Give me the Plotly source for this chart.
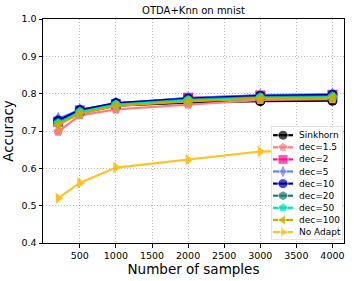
import plotly.graph_objects as go

samples = [200, 500, 1000, 2000, 3000, 4000]
series_names = ["Sinkhorn", "dec=1.5", "dec=2", "dec=5", "dec=10", "dec=20", "dec=50", "dec=100", "No Adapt"]
sinkhorn = [0.722, 0.748, 0.768, 0.776, 0.780, 0.781]
dec_1_5 = [0.698, 0.742, 0.758, 0.771, 0.783, 0.785]
dec_2 = [0.725, 0.755, 0.772, 0.789, 0.795, 0.797]
dec_5 = [0.733, 0.757, 0.774, 0.788, 0.796, 0.799]
dec_10 = [0.728, 0.756, 0.775, 0.787, 0.794, 0.797]
dec_20 = [0.722, 0.752, 0.771, 0.784, 0.791, 0.793]
dec_50 = [0.720, 0.750, 0.770, 0.782, 0.789, 0.791]
dec_100 = [0.716, 0.747, 0.767, 0.779, 0.787, 0.789]
no_adapt = [0.520, 0.561, 0.602, 0.623, 0.645, 0.649]
x_ticks = [500, 1000, 1500, 2000, 2500, 3000, 3500, 4000]
y_ticks = [0.4, 0.5, 0.6, 0.7, 0.8, 0.9, 1.0]

values = [sinkhorn, dec_1_5, dec_2, dec_5, dec_10, dec_20, dec_50, dec_100, no_adapt]
colors = ["#000000", "#FA8080", "#FF1493", "#6A80FF", "#0000A0", "#1E7B6E", "#00E0B0", "#CCAA00", "#FFC125"]
symbols = ["circle", "pentagon", "square", "diamond-tall", "circle", "hexagon", "pentagon", "triangle-left", "triangle-right"]

W, H = 354, 281
ML, MR, MT, MB = 43, 10, 19, 38
PW, PH = W - ML - MR, H - MT - MB

fig = go.Figure()
for name, vals, c, s in zip(series_names, values, colors, symbols):
    fig.add_trace(go.Scatter(
        x=samples, y=vals, name=name, mode="lines+markers",
        line=dict(color=c, width=2.2),
        marker=dict(symbol=s, size=10, color=c),
        showlegend=False,
    ))

# custom compact legend on an auxiliary axis pair (units = pixels inside the legend box)
LB_L, LB_R, LB_B, LB_T = 271, 343, 240, 126
lw, lh = LB_R - LB_L, LB_B - LB_T
fig.add_trace(go.Scatter(
    x=[0, lw, lw, 0, 0], y=[0, 0, lh, lh, 0], mode="lines", fill="toself",
    fillcolor="rgba(255,255,255,0.85)", line=dict(color="#c8c8c8", width=1),
    xaxis="x2", yaxis="y2", showlegend=False, hoverinfo="skip",
))
n = len(series_names)
step = 12.1
for i, (name, c, s) in enumerate(zip(series_names, colors, symbols)):
    yy = 8 + (n - 1 - i) * step
    fig.add_trace(go.Scatter(
        x=[2, 12, 22], y=[yy, yy, yy], mode="lines+markers",
        line=dict(color=c, width=2.2),
        marker=dict(symbol=s, size=[0, 10, 0], color=c),
        xaxis="x2", yaxis="y2", showlegend=False, hoverinfo="skip",
    ))
    fig.add_annotation(x=26, y=yy, xref="x2", yref="y2", text=name, showarrow=False,
                       xanchor="left", yanchor="middle", font=dict(size=9, color="black"))

axis_common = dict(
    showline=True, linecolor="black", linewidth=1, mirror=True,
    ticks="outside", ticklen=3.5, tickcolor="black", tickwidth=1,
    showgrid=True, gridcolor="#b8b8b8", griddash="1px,2px", gridwidth=0.8,
    zeroline=False, tickfont=dict(size=9.5, color="black"), automargin=False,
)

fig.update_layout(
    width=W, height=H,
    margin=dict(l=ML, r=MR, t=MT, b=MB, autoexpand=False),
    plot_bgcolor="white", paper_bgcolor="white",
    font=dict(family="DejaVu Sans", color="black"),
    title=dict(text="OTDA+Knn on mnist", x=0.5, xref="paper", xanchor="center",
               y=1 - 10 / H, yanchor="middle", font=dict(size=10)),
    xaxis=dict(range=[-10, 4160], tickvals=x_ticks,
               title=dict(text="Number of samples", font=dict(size=13.5), standoff=2), **axis_common),
    yaxis=dict(range=[0.4, 1.0], tickvals=y_ticks, tickformat=".1f",
               title=dict(text="Accuracy", font=dict(size=13.5), standoff=4), **axis_common),
    xaxis2=dict(domain=[(LB_L - ML) / PW, (LB_R - ML) / PW], range=[0, lw], anchor="y2",
                visible=False, fixedrange=True),
    yaxis2=dict(domain=[(H - MB - LB_B) / PH, (H - MB - LB_T) / PH], range=[0, lh], anchor="x2",
                visible=False, fixedrange=True),
    showlegend=False,
)

fig.write_html("out.html", config={"displayModeBar": False},
               post_script="document.body.style.margin='0px';")
